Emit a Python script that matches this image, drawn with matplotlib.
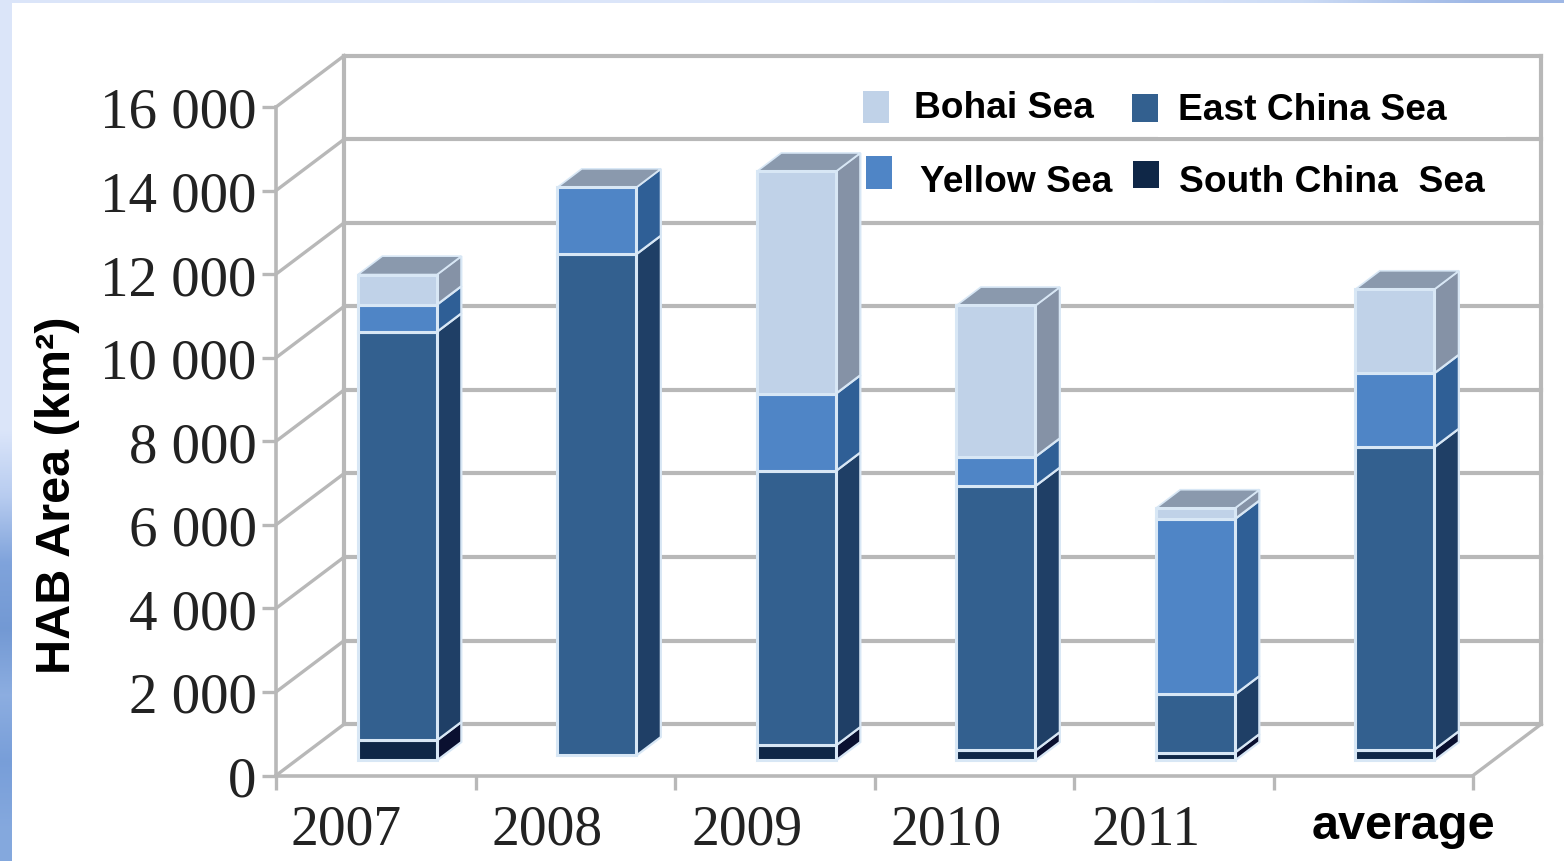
import matplotlib
matplotlib.use("Agg")
import matplotlib.pyplot as plt
import numpy as np
from matplotlib.patches import Polygon, Rectangle

W, H = 1564, 862

years = ["2007", "2008", "2009", "2010", "2011", "average"]
south = [480, 0, 360, 240, 190, 260]
east = [9780, 12000, 6570, 6330, 1390, 7240]
yellow = [650, 1600, 1850, 700, 4200, 1770]
bohai = [720, 0, 5320, 3620, 260, 2010]
floor_gap = [0, 120, 0, 0, 0, 0]

series = [south, east, yellow, bohai]
front_cols = ["#0f2747", "#33608f", "#4f85c6", "#c0d2e8"]
side_cols = ["#0a1030", "#1f3f66", "#2f5f96", "#8592a6"]
y_ticks = list(range(0, 16001, 2000))
y_labels = ["0", "2 000", "4 000", "6 000", "8 000", "10 000", "12 000", "14 000", "16 000"]
label_pos = [0.35, 1.36, 2.36, 3.36, 4.36, 5.65]


def px(x, y):
    return x / W, 1 - y / H


fig = plt.figure(figsize=(W / 100, H / 100), dpi=100, facecolor="white")

# template background round the white slide
bg = fig.add_axes([0, 0, 1, 1], zorder=0)
bg.set_xlim(0, W)
bg.set_ylim(H, 0)
bg.axis("off")
left_stops = np.array([[0.86, 0.90, 0.98]] * 7 + [[0.72, 0.80, 0.94], [0.50, 0.64, 0.86],
                      [0.45, 0.60, 0.83], [0.55, 0.68, 0.88], [0.47, 0.62, 0.85], [0.52, 0.66, 0.87]])
bg.imshow(left_stops[:, None, :], extent=(0, 12, H, 0), aspect="auto", interpolation="bilinear")
top_stops = np.array([[0.86, 0.90, 0.98]] * 7 + [[0.80, 0.86, 0.96], [0.62, 0.72, 0.90]])
bg.imshow(top_stops[None, :, :], extent=(0, W, 4, 0), aspect="auto", interpolation="bilinear")
bg.set_xlim(0, W)
bg.set_ylim(H, 0)

x0, y0 = px(276, 776.5)
x1, y1 = px(1473, 108)
ax = fig.add_axes([x0, y0, x1 - x0, y1 - y0], zorder=1)
ax.patch.set_alpha(0)
ax.set_xlim(0, 6)
ax.set_ylim(0, 16000)

grid = "#b8b8b8"
wall_dx, wall_dy = 0.342, 1230
bar_w, bar_off = 0.396, 0.411
side_dx, side_dy = 0.122, 440
base = 360

for s in ["top", "right"]:
    ax.spines[s].set_visible(False)
for s in ["left", "bottom"]:
    ax.spines[s].set_color(grid)
    ax.spines[s].set_linewidth(2.6)

# walls and floor
for v in y_ticks:
    ax.plot([0, wall_dx], [v, v + wall_dy], color=grid, lw=2.4, clip_on=False, zorder=1)
    ax.plot([wall_dx, 6 + wall_dx], [v + wall_dy, v + wall_dy], color=grid, lw=3, clip_on=False, zorder=1)
ax.plot([wall_dx, wall_dx], [wall_dy, 16000 + wall_dy], color=grid, lw=3, clip_on=False, zorder=1)
ax.plot([6 + wall_dx, 6 + wall_dx], [wall_dy, 16000 + wall_dy], color=grid, lw=3, clip_on=False, zorder=1)
ax.plot([6, 6 + wall_dx], [0, wall_dy], color=grid, lw=2.4, clip_on=False, zorder=1)

# stacked bars with their side and top faces
edge = "#d8e7f5"
for i in range(len(years)):
    left = i + bar_off
    right = left + bar_w
    bottom = base + floor_gap[i]
    for vals, fc, sc in zip(series, front_cols, side_cols):
        v = vals[i]
        if v == 0:
            continue
        ax.add_patch(Polygon([(right, bottom), (right + side_dx, bottom + side_dy),
                              (right + side_dx, bottom + v + side_dy), (right, bottom + v)],
                             fc=sc, ec=edge, lw=1.6, zorder=3, clip_on=False))
        ax.add_patch(Rectangle((left, bottom), bar_w, v, fc=fc, ec=edge, lw=2.2, zorder=4, clip_on=False))
        bottom += v
    ax.add_patch(Polygon([(left, bottom), (right, bottom), (right + side_dx, bottom + side_dy),
                          (left + side_dx, bottom + side_dy)],
                         fc="#8a99ad", ec=edge, lw=1.2, zorder=3, clip_on=False))

ax.set_yticks(y_ticks, y_labels, fontfamily="Liberation Serif", fontsize=41, color="#222222")
ax.set_xticks(range(7), [""] * 7)
ax.set_xticks(label_pos, years, minor=True, fontfamily="Liberation Serif", fontsize=40, color="#222222")
ax.tick_params(axis="both", which="major", length=10, width=2.4, color=grid)
ax.tick_params(axis="y", pad=4)
ax.tick_params(axis="x", which="minor", length=0, pad=20)
last = ax.get_xticklabels(minor=True)[-1]
last.set_fontfamily("Liberation Sans")
last.set_fontweight("bold")
last.set_fontsize(35)
last.set_color("black")

sans = "Liberation Sans"
lx, ly = px(57, 495)
fig.text(lx, ly, "HAB Area (km²)", rotation=90, ha="center", va="center",
         fontfamily=sans, fontweight="bold", fontsize=35, color="black", zorder=6)

# legend, set by hand like the original slide
ov = fig.add_axes([0, 0, 1, 1], zorder=5)
ov.set_xlim(0, W)
ov.set_ylim(H, 0)
ov.axis("off")
ov.add_patch(Rectangle((1158, 64), 348, 74, fc="white", ec="none"))
for (a, b, c, d), col in zip([(863, 92, 26, 32), (1132, 95, 26, 28), (866, 157, 26, 33), (1133, 162, 26, 27)],
                             ["#c0d2e8", "#33608f", "#4f85c6", "#0f2747"]):
    ov.add_patch(Rectangle((a, b), c, d, fc=col, ec="none"))
for tx, ty, name in [(914, 109, "Bohai Sea"), (1178, 110, "East China Sea"),
                     (920, 183, "Yellow Sea"), (1179, 183, "South China  Sea")]:
    ov.text(tx, ty, name, ha="left", va="center", fontfamily=sans, fontweight="bold", fontsize=26.7, color="black")

fig.savefig("out.png", dpi=100)
